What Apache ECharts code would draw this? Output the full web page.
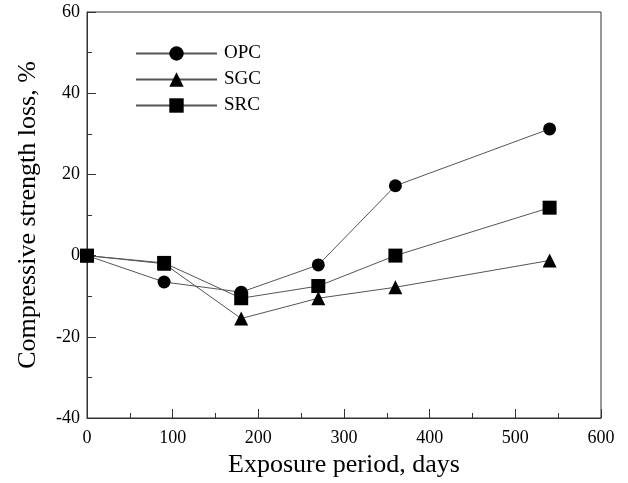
<!DOCTYPE html>
<html><head><meta charset="utf-8">
<script src="https://cdn.jsdelivr.net/npm/echarts@6/dist/echarts.min.js"></script>
<style>html,body{margin:0;padding:0;background:#fff}#c{width:628px;height:483px}</style>
</head><body><div id="c"></div>
<script>
const days = [0, 90, 180, 270, 360, 540];
const opc = [0, -6.5, -9, -2.3, 17.2, 31.2];
const sgc = [0, -2, -15.5, -10.5, -7.8, -1.2];
const src = [0, -1.8, -10.5, -7.5, 0, 11.8];
const seriesNames = ['OPC', 'SGC', 'SRC'];
const xTitle = 'Exposure period, days';
const yTitle = 'Compressive strength loss, %';

const font = 'Liberation Serif, Times New Roman, serif';
const lineColor = '#555';
function mk(name, vals, symbol, size) {
  return {
    name: name, type: 'line', data: days.map((d, i) => [d, vals[i]]),
    symbol: symbol, symbolSize: size,
    lineStyle: { color: lineColor, width: 1 },
    itemStyle: { color: '#000' },
    z: 3
  };
}
const chart = echarts.init(document.getElementById('c'));
chart.setOption({
  animation: false,
  backgroundColor: '#fff',
  grid: { left: 87, right: 27, top: 12, bottom: 65, show: true, borderColor: '#333', borderWidth: 1 },
  legend: {
    left: 130, top: 39, orient: 'vertical',
    itemWidth: 81, itemHeight: 18, itemGap: 7,
    textStyle: { fontFamily: font, fontSize: 19, color: '#000', padding: [0, 0, 0, 2] },
    data: seriesNames
  },
  xAxis: {
    type: 'value', min: 0, max: 600, interval: 100,
    name: xTitle, nameLocation: 'middle', nameGap: 31,
    nameTextStyle: { fontFamily: font, fontSize: 26, color: '#000' },
    axisLine: { onZero: false, lineStyle: { color: '#333' } },
    axisTick: { inside: true, length: 9, lineStyle: { color: '#333' } },
    minorTick: { show: true, splitNumber: 2, length: 5, lineStyle: { color: '#333' } },
    axisLabel: { fontFamily: font, fontSize: 18, color: '#000', margin: 11 },
    splitLine: { show: false }
  },
  yAxis: {
    type: 'value', min: -40, max: 60, interval: 20,
    name: yTitle, nameLocation: 'middle', nameGap: 46, nameRotate: 90,
    nameTextStyle: { fontFamily: font, fontSize: 26, color: '#000' },
    axisLine: { onZero: false, lineStyle: { color: '#333' } },
    axisTick: { inside: true, length: 9, lineStyle: { color: '#333' } },
    minorTick: { show: true, splitNumber: 2, length: 5, lineStyle: { color: '#333' } },
    axisLabel: { fontFamily: font, fontSize: 18, color: '#000', margin: 7 },
    splitLine: { show: false }
  },
  series: [
    mk(seriesNames[0], opc, 'circle', 13),
    mk(seriesNames[1], sgc, 'triangle', 14),
    mk(seriesNames[2], src, 'rect', 14)
  ]
});
</script></body></html>
